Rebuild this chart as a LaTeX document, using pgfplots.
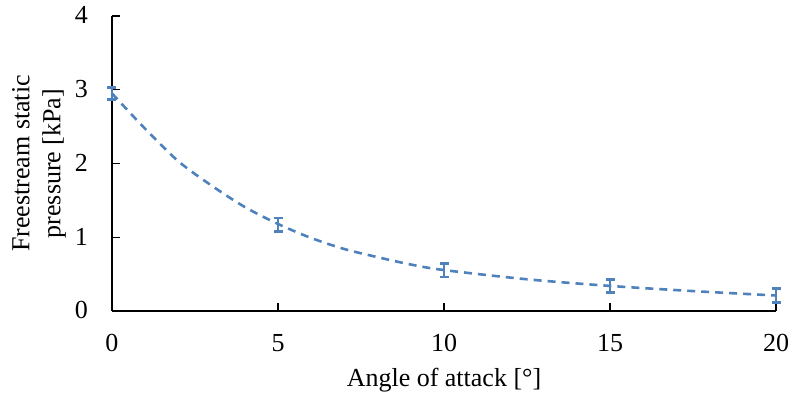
\documentclass[border=0pt]{standalone}
\usepackage{fontspec}
\setmainfont{Liberation Serif}
\usepackage{pgfplots}
\pgfplotsset{compat=1.18}
\definecolor{lineblue}{HTML}{4F81BD}
\begin{document}
\fontsize{26}{31}\selectfont
\begin{tikzpicture}[x=1pt,y=1pt]
\useasboundingbox (-112,-84) rectangle (677,311);
\begin{axis}[
  at={(0,0)}, anchor=south west,
  scale only axis, width=664pt, height=295pt,
  xmin=0, xmax=20, ymin=0, ymax=4,
  xtick={0,5,10,15,20}, ytick={0,1,2,3,4},
  axis lines*=left,
  axis line style={line width=1.2pt, black},
  tick align=inside, major tick length=8pt,
  tick style={line width=1.2pt, black},
  /pgf/number format/assume math mode=true,
  ticklabel style={font=\fontsize{26}{31}\selectfont, inner sep=0pt},
  xticklabel style={anchor=base, yshift=-41pt},
  yticklabel style={anchor=base east, xshift=-24pt, yshift=-8pt},
  xlabel={Angle of attack [°]},
  ylabel={Freestream static\\pressure [kPa]},
  label style={font=\fontsize{26}{31}\selectfont},
  xlabel style={at={(axis description cs:0.5,0)}, anchor=base, yshift=-76pt},
  ylabel style={at={(axis description cs:-0.11,0.5)}, anchor=center, align=center},
  clip=false,
]
\addplot[lineblue, line width=2.6pt, dash pattern=on 8pt off 6pt, smooth, tension=0.5] coordinates {
  (0,2.95) (1,2.47) (2,2.03) (3,1.70) (4,1.41) (5,1.18) (6,0.99) (7,0.84)
  (8,0.73) (9,0.63) (10,0.555) (12.5,0.43) (15,0.34) (17.5,0.27) (20,0.21)
};
\addplot[draw=none, mark=none,
  error bars/.cd, y dir=both, y explicit,
  error bar style={line width=2.8pt, lineblue},
  error mark options={rotate=90, mark size=4.5pt, line width=2.8pt, lineblue}]
  coordinates {
  (0,2.95) +- (0,0.08)
  (5,1.17) +- (0,0.09)
  (10,0.55) +- (0,0.09)
  (15,0.34) +- (0,0.09)
  (20,0.21) +- (0,0.09)
};
\end{axis}
\end{tikzpicture}
\end{document}
